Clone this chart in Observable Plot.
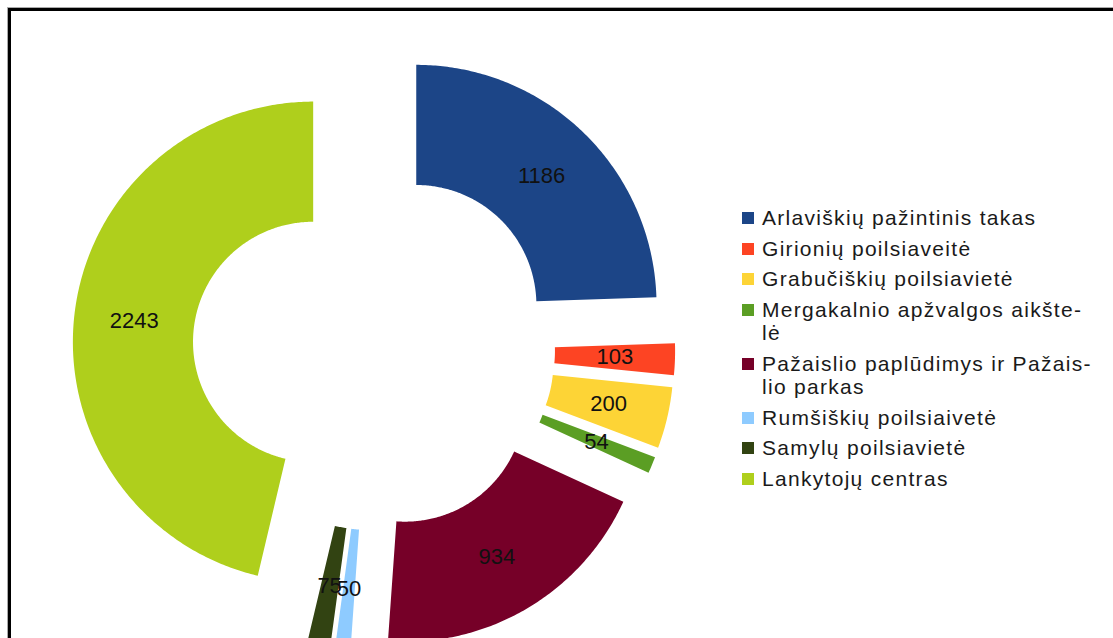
<!DOCTYPE html>
<html>
<head>
<meta charset="utf-8">
<script src="https://cdn.jsdelivr.net/npm/d3@7"></script>
<script src="https://cdn.jsdelivr.net/npm/@observablehq/plot@0.6"></script>
<style>
html, body { margin: 0; padding: 0; background: #fff; overflow: hidden; width: 1113px; height: 638px; }
#wrap { position: relative; width: 1113px; height: 638px; overflow: hidden; }
#frame { position: absolute; left: 8px; top: 8px; width: 2000px; height: 2000px;
  border-left: 3px solid #000; border-top: 3px solid #000; box-shadow: -1px -1px 0 #aaa; }
#chart { position: absolute; left: 0; top: 0; }
#legend { position: absolute; left: 742px; top: 206px; font-family: "Liberation Sans", Arial, sans-serif;
  font-size: 21px; line-height: 23.5px; letter-spacing: 1.3px; color: #1a1a1a; }
.item { position: relative; padding-left: 20px; margin-bottom: 7px; white-space: nowrap; }
.sw { position: absolute; left: 0; top: 6px; width: 12px; height: 12px; }
</style>
</head>
<body>
<div id="wrap">
  <div id="frame"></div>
  <div id="chart"></div>
  <div id="legend"></div>
</div>
<script>
// ---- data ----
const names = [
  "Arlaviškių pažintinis takas",
  "Girionių poilsiaveitė",
  "Grabučiškių poilsiavietė",
  "Mergakalnio apžvalgos aikštelė",
  "Pažaislio paplūdimys ir Pažaislio parkas",
  "Rumšiškių poilsiaivetė",
  "Samylų poilsiavietė",
  "Lankytojų centras"
];
const values = [1186, 103, 200, 54, 934, 50, 75, 2243];
const legendLines = [
  ["Arlaviškių pažintinis takas"],
  ["Girionių poilsiaveitė"],
  ["Grabučiškių poilsiavietė"],
  ["Mergakalnio apžvalgos aikšte-", "lė"],
  ["Pažaislio paplūdimys ir Pažais-", "lio parkas"],
  ["Rumšiškių poilsiaivetė"],
  ["Samylų poilsiavietė"],
  ["Lankytojų centras"]
];
const colors = ["#1c4587", "#fd4423", "#fdd436", "#5b9e24", "#760028", "#8ecbff", "#324312", "#afcf1c"];

// ---- layout ----
const W = 1113, H = 638;
const CX = 373.3, CY = 348.5, RPX = 240.3; // donut centre and outer radius in px
const R_IN = 0.5, R_OUT = 1, EXPLODE = 0.254;

const total = d3.sum(values);
let acc = 0;
const slices = names.map((name, i) => {
  const a0 = acc / total * 2 * Math.PI;
  acc += values[i];
  const a1 = acc / total * 2 * Math.PI;
  return {name, value: values[i], a0, a1, am: (a0 + a1) / 2};
});

const pts = [];
const labels = [];
for (const s of slices) {
  const ox = EXPLODE * Math.sin(s.am), oy = EXPLODE * Math.cos(s.am);
  const n = Math.max(4, Math.ceil((s.a1 - s.a0) / 0.01));
  for (let k = 0; k <= n; k++) {
    const a = s.a0 + (s.a1 - s.a0) * k / n;
    pts.push({name: s.name, x: ox + R_OUT * Math.sin(a), y: oy + R_OUT * Math.cos(a)});
  }
  for (let k = n; k >= 0; k--) {
    const a = s.a0 + (s.a1 - s.a0) * k / n;
    pts.push({name: s.name, x: ox + R_IN * Math.sin(a), y: oy + R_IN * Math.cos(a)});
  }
  const rm = (R_IN + R_OUT) / 2;
  labels.push({name: s.name, value: s.value, x: ox + rm * Math.sin(s.am), y: oy + rm * Math.cos(s.am)});
}

const chart = Plot.plot({
  width: W,
  height: H,
  margin: 0,
  style: {fontFamily: "Liberation Sans, Arial, sans-serif", background: "transparent"},
  x: {domain: [-CX / RPX, (W - CX) / RPX], range: [0, W], axis: null},
  y: {domain: [-(H - CY) / RPX, CY / RPX], range: [H, 0], axis: null},
  color: {domain: names, range: colors},
  marks: [
    Plot.line(pts, {x: "x", y: "y", z: "name", fill: "name", stroke: "none"}),
    Plot.text(labels, {x: "x", y: "y", text: d => String(d.value), fontSize: 22, fill: "#111"})
  ]
});
document.getElementById("chart").appendChild(chart);

// ---- legend ----
const leg = document.getElementById("legend");
names.forEach((n, i) => {
  const item = document.createElement("div");
  item.className = "item";
  const sw = document.createElement("span");
  sw.className = "sw";
  sw.style.background = colors[i];
  item.appendChild(sw);
  legendLines[i].forEach((line, j) => {
    if (j > 0) item.appendChild(document.createElement("br"));
    item.appendChild(document.createTextNode(line));
  });
  leg.appendChild(item);
});
</script>
</body>
</html>
